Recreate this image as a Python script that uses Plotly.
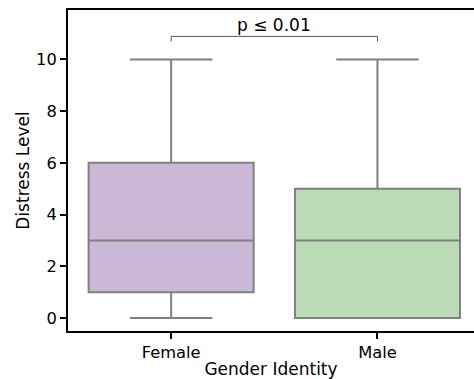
import plotly.graph_objects as go

categories = ["Female", "Male"]
lower_whisker = [0, 0]
q1 = [1, 0]
medians = [3, 3]
q3 = [6, 5]
upper_whisker = [10, 10]
fill_colors = ["#cab8d6", "#bcdcb7"]
p_label = "p ≤ 0.01"

fig = go.Figure()
for i, c in enumerate(categories):
    fig.add_trace(go.Box(
        x=[c], q1=[q1[i]], median=[medians[i]], q3=[q3[i]],
        lowerfence=[lower_whisker[i]], upperfence=[upper_whisker[i]],
        fillcolor=fill_colors[i], line=dict(color="#808080", width=2),
        width=0.8, whiskerwidth=0.5, boxpoints=False, showlegend=False,
        hoverinfo="skip",
    ))

# significance bracket
yb, yt = 10.69, 10.89
for x0, y0, x1, y1 in [(0, yb, 0, yt), (0, yt, 1, yt), (1, yt, 1, yb)]:
    fig.add_shape(type="line", x0=x0, y0=y0, x1=x1, y1=y1, xref="x", yref="y",
                  line=dict(color="#555555", width=1))
fig.add_annotation(x=0.5, y=yt, xref="x", yref="y", text=p_label, showarrow=False,
                   yanchor="bottom", yshift=-1, font=dict(size=17, color="black"))

fig.update_layout(
    width=474, height=379,
    margin=dict(l=68, r=0, t=10, b=48),
    plot_bgcolor="white", paper_bgcolor="white",
    font=dict(family="DejaVu Sans", size=16.3, color="black"),
)
fig.update_xaxes(
    type="category", categoryorder="array", categoryarray=categories,
    range=[-0.5, 1.468], showline=True, linecolor="black", linewidth=1.8,
    mirror=True, ticks="outside", ticklen=6, tickwidth=1.6, tickcolor="black",
    showgrid=False, zeroline=False, automargin=False,
    title=dict(text="Gender Identity", font=dict(size=17), standoff=4),
)
fig.update_yaxes(
    range=[-0.5, 11.91], tickvals=[0, 2, 4, 6, 8, 10],
    showline=True, linecolor="black", linewidth=1.8,
    ticks="outside", ticklen=6, tickwidth=1.6, tickcolor="black",
    showgrid=False, zeroline=False, automargin=False,
    title=dict(text="Distress Level", font=dict(size=17), standoff=2),
)
fig.write_html("out.html", config={"displayModeBar": False},
               post_script="document.body.style.margin='0';")
